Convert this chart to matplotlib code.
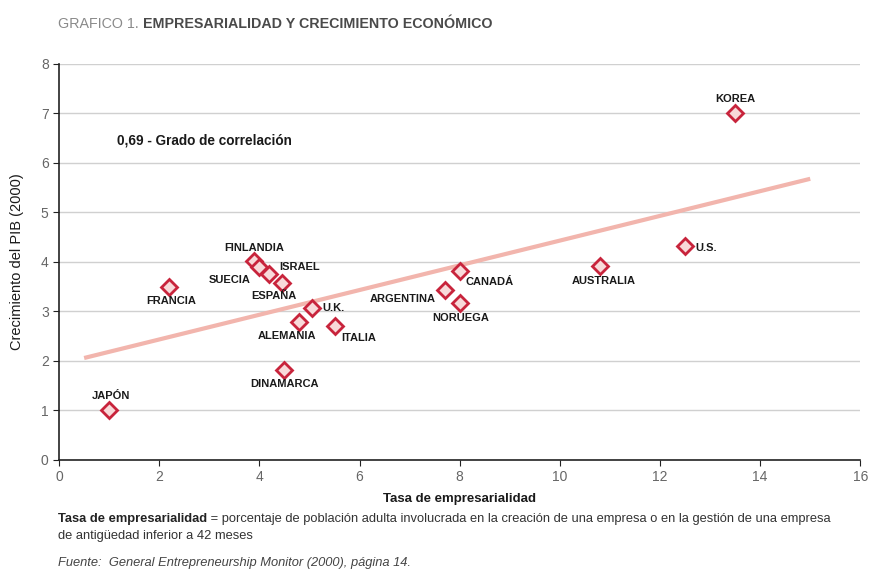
import matplotlib

matplotlib.use("Agg")
import matplotlib.pyplot as plt

# data
countries = ["JAPÓN", "FRANCIA", "FINLANDIA", "SUECIA", "ISRAEL", "ESPAÑA", "U.K.",
             "ALEMANIA", "ITALIA", "DINAMARCA", "ARGENTINA", "CANADÁ", "NORUEGA",
             "AUSTRALIA", "U.S.", "KOREA"]
tasa = [1.0, 2.2, 3.9, 4.0, 4.2, 4.45, 5.05, 4.8, 5.5, 4.5, 7.7, 8.0, 8.0, 10.8, 12.5, 13.5]
pib = [1.0, 3.5, 4.02, 3.9, 3.76, 3.58, 3.07, 2.79, 2.7, 1.82, 3.43, 3.82, 3.17, 3.92, 4.32, 7.0]
trend_x = [0.5, 15.0]
trend_y = [2.06, 5.68]
correlacion = "0,69"

# label placement: (dx, dy) in pixels, ha, va
label_pos = {
    "JAPÓN": (2, 9, "center", "bottom"),
    "FRANCIA": (2, -9, "center", "top"),
    "FINLANDIA": (0, 8, "center", "bottom"),
    "SUECIA": (-9, -8, "right", "top"),
    "ISRAEL": (10, 2, "left", "bottom"),
    "ESPAÑA": (-8, -8, "center", "top"),
    "U.K.": (10, 0, "left", "center"),
    "ALEMANIA": (-12, -9, "center", "top"),
    "ITALIA": (7, -7, "left", "top"),
    "DINAMARCA": (0, -9, "center", "top"),
    "ARGENTINA": (-9, -4, "right", "top"),
    "CANADÁ": (6, -6, "left", "top"),
    "NORUEGA": (1, -10, "center", "top"),
    "AUSTRALIA": (4, -10, "center", "top"),
    "U.S.": (10, -2, "left", "center"),
    "KOREA": (0, 9, "center", "bottom"),
}

plt.rcParams["font.family"] = ["Liberation Sans", "DejaVu Sans"]

fig = plt.figure(figsize=(8.69, 5.69), dpi=100)
ax = fig.add_axes([0.068, 0.1916, 0.922, 0.696])

ax.plot(trend_x, trend_y, color="#f2b5ad", lw=3, solid_capstyle="butt", zorder=2)
ax.plot(tasa, pib, "D", ms=8.5, mfc="#f8dada", mec="#c8243c", mew=2, zorder=3)

for name, x, y in zip(countries, tasa, pib):
    dx, dy, ha, va = label_pos[name]
    ax.annotate(name, (x, y), xytext=(dx, dy), textcoords="offset pixels",
                ha=ha, va=va, fontsize=8, fontweight="bold", color="#1a1a1a")

ax.text(1.15, 6.45, f"{correlacion} - Grado de correlación", fontsize=9.8,
        fontweight="bold", color="#1a1a1a", va="center")

ax.set_xlim(0, 16)
ax.set_ylim(0, 8)
ax.set_xticks(range(0, 17, 2))
ax.set_yticks(range(0, 9))
ax.yaxis.grid(True, color="#d0d0d0", lw=1)
ax.set_axisbelow(True)
for s in ["top", "right"]:
    ax.spines[s].set_visible(False)
for s in ["left", "bottom"]:
    ax.spines[s].set_color("#222222")
    ax.spines[s].set_linewidth(1.2)
ax.tick_params(colors="#222222", labelcolor="#666666", labelsize=10, length=4)
ax.set_xlabel("Tasa de empresarialidad", fontsize=9.5, fontweight="bold",
              color="#1a1a1a", labelpad=6)
ax.set_ylabel("Crecimiento del PIB (2000)", fontsize=10.5, color="#1a1a1a", labelpad=12)

t1 = fig.text(0.067, 0.951, "GRAFICO 1. ", fontsize=10.3, color="#8a8a8a",
              va="baseline")
ax.annotate("EMPRESARIALIDAD Y CRECIMIENTO ECONÓMICO", xy=(1, 0), xycoords=t1,
            fontsize=10.3, fontweight="bold", color="#4a4a4a", va="bottom",
            annotation_clip=False)

t2 = fig.text(0.067, 0.082, "Tasa de empresarialidad", fontsize=9.3,
              fontweight="bold", color="#222222", va="baseline")
ax.annotate(" = porcentaje de población adulta involucrada en la creación de una empresa "
            "o en la gestión de una empresa", xy=(1, 0), xycoords=t2, fontsize=9.3,
            color="#333333", va="bottom", annotation_clip=False)
fig.text(0.067, 0.052, "de antigüedad inferior a 42 meses", fontsize=9.3,
         color="#333333", va="baseline")
fig.text(0.067, 0.006, "Fuente:  General Entrepreneurship Monitor (2000), página 14.",
         fontsize=9.3, style="italic", color="#444444", va="baseline")

fig.savefig("out.png", dpi=100)
